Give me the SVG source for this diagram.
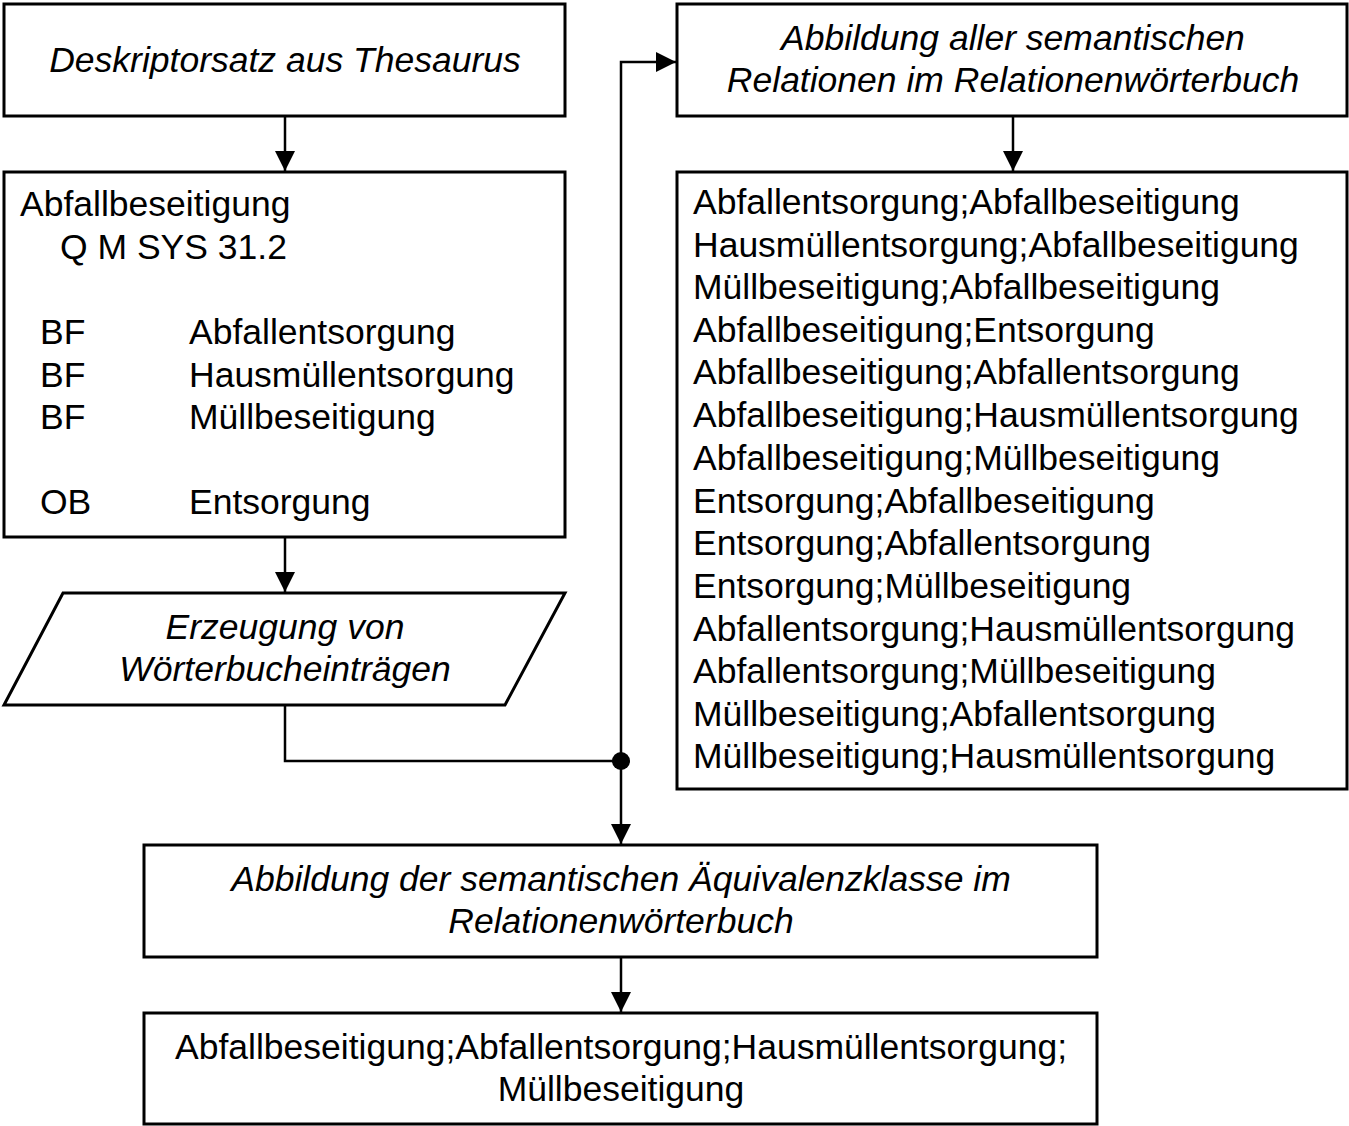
<svg xmlns="http://www.w3.org/2000/svg" width="1349" height="1126" viewBox="0 0 1349 1126">
<style>
.box{fill:#fff;stroke:#000;stroke-width:3}
.t{font-family:"Liberation Sans",Arial,sans-serif;font-size:35.5px;fill:#000}
.i{font-style:italic}
.c{text-anchor:middle}
.ln{fill:none;stroke:#000;stroke-width:2.5}
</style>
<defs>
<marker id="ah" viewBox="0 0 20 20" refX="20" refY="10" markerWidth="20" markerHeight="20" markerUnits="userSpaceOnUse" orient="auto">
<path d="M0,0 L20,10 L0,20 Z" fill="#000"/>
</marker>
</defs>
<rect width="1349" height="1126" fill="#fff"/>
<g id="connectors">
<line class="ln" x1="285" y1="116" x2="285" y2="171" marker-end="url(#ah)"/>
<line class="ln" x1="285" y1="537" x2="285" y2="592" marker-end="url(#ah)"/>
<polyline class="ln" points="285,705 285,761 621,761"/>
<polyline class="ln" points="621,761 621,62 676,62" marker-end="url(#ah)"/>
<line class="ln" x1="621" y1="761" x2="621" y2="844" marker-end="url(#ah)"/>
<line class="ln" x1="1013" y1="116" x2="1013" y2="171" marker-end="url(#ah)"/>
<line class="ln" x1="621" y1="957" x2="621" y2="1012" marker-end="url(#ah)"/>
<circle cx="621" cy="761" r="9" fill="#000"/>
</g>
<g id="n1">
<rect class="box" x="4" y="4" width="561" height="112"/>
<text class="t i c" x="285" y="72">Deskriptorsatz aus Thesaurus</text>
</g>
<g id="n2">
<rect class="box" x="4" y="172" width="561" height="365"/>
<text class="t" x="20" y="216">Abfallbeseitigung</text>
<text class="t" x="60" y="259">Q M SYS 31.2</text>
<text class="t" x="40" y="344">BF</text><text class="t" x="189" y="344">Abfallentsorgung</text>
<text class="t" x="40" y="387">BF</text><text class="t" x="189" y="387">Hausmüllentsorgung</text>
<text class="t" x="40" y="429">BF</text><text class="t" x="189" y="429">Müllbeseitigung</text>
<text class="t" x="40" y="514">OB</text><text class="t" x="189" y="514">Entsorgung</text>
</g>
<g id="n3">
<polygon class="box" points="63,593 565,593 505,705 4,705"/>
<text class="t i c" x="285" y="639">Erzeugung von</text>
<text class="t i c" x="285" y="681">Wörterbucheinträgen</text>
</g>
<g id="n4">
<rect class="box" x="677" y="4" width="670" height="112"/>
<text class="t i c" x="1013" y="50">Abbildung aller semantischen</text>
<text class="t i c" x="1013" y="92">Relationen im Relationenwörterbuch</text>
</g>
<g id="n5">
<rect class="box" x="677" y="172" width="670" height="617"/>
<text class="t" x="693" y="214">Abfallentsorgung;Abfallbeseitigung</text>
<text class="t" x="693" y="257">Hausmüllentsorgung;Abfallbeseitigung</text>
<text class="t" x="693" y="299">Müllbeseitigung;Abfallbeseitigung</text>
<text class="t" x="693" y="342">Abfallbeseitigung;Entsorgung</text>
<text class="t" x="693" y="384">Abfallbeseitigung;Abfallentsorgung</text>
<text class="t" x="693" y="427">Abfallbeseitigung;Hausmüllentsorgung</text>
<text class="t" x="693" y="470">Abfallbeseitigung;Müllbeseitigung</text>
<text class="t" x="693" y="513">Entsorgung;Abfallbeseitigung</text>
<text class="t" x="693" y="555">Entsorgung;Abfallentsorgung</text>
<text class="t" x="693" y="598">Entsorgung;Müllbeseitigung</text>
<text class="t" x="693" y="641">Abfallentsorgung;Hausmüllentsorgung</text>
<text class="t" x="693" y="683">Abfallentsorgung;Müllbeseitigung</text>
<text class="t" x="693" y="726">Müllbeseitigung;Abfallentsorgung</text>
<text class="t" x="693" y="768">Müllbeseitigung;Hausmüllentsorgung</text>
</g>
<g id="n6">
<rect class="box" x="144" y="845" width="953" height="112"/>
<text class="t i c" x="621" y="891">Abbildung der semantischen Äquivalenzklasse im</text>
<text class="t i c" x="621" y="933">Relationenwörterbuch</text>
</g>
<g id="n7">
<rect class="box" x="144" y="1013" width="953" height="111"/>
<text class="t c" x="621" y="1059">Abfallbeseitigung;Abfallentsorgung;Hausmüllentsorgung;</text>
<text class="t c" x="621" y="1101">Müllbeseitigung</text>
</g>
</svg>
